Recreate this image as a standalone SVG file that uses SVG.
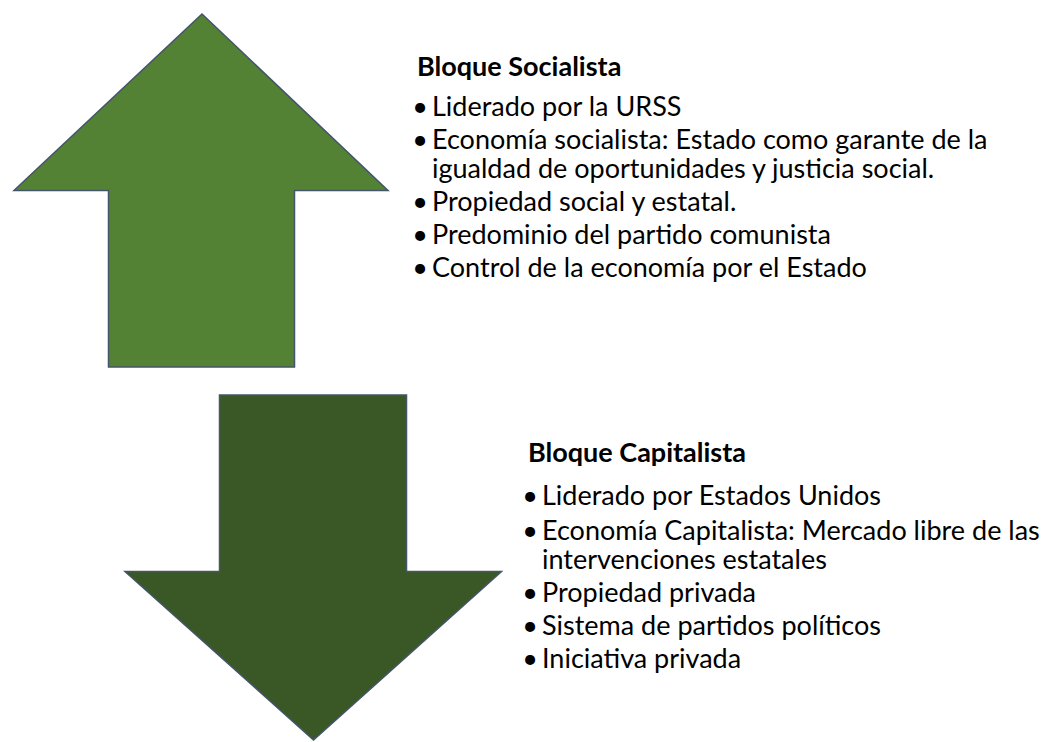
<svg xmlns="http://www.w3.org/2000/svg" width="1053" height="742" viewBox="0 0 1053 742">
<style>
.arrow{stroke:#44546A;stroke-width:1.5;stroke-linejoin:miter}
.up{fill:#548235}
.down{fill:#3A5825}
text{font-family:Lato,"Liberation Sans",sans-serif;font-size:27px;fill:#000}
.title{font-weight:bold}
.b{text-anchor:middle}
</style>
<rect width="1053" height="742" fill="#FFFFFF"/>
<g id="arrow-up">
<polygon class="arrow up" points="202,14 388,190.5 294.5,190.5 294.5,367 108.5,367 108.5,190.5 14,190.5"/>
</g>
<g id="arrow-down">
<polygon class="arrow down" points="219.5,395 406.5,395 406.5,571.5 501.5,571.5 313.5,740 125,571.5 219.5,571.5"/>
</g>
<g id="connectors"></g>
<g id="text-socialista">
<text class="title" x="417" y="76">Bloque Socialista</text>
<text class="b" x="420" y="116">•</text><text x="432" y="116">Liderado por la URSS</text>
<text class="b" x="420" y="149">•</text><text x="432" y="149">Economía socialista: Estado como garante de la</text>
<text x="432" y="178">igualdad de oportunidades y justicia social.</text>
<text class="b" x="420" y="211">•</text><text x="432" y="211">Propiedad social y estatal.</text>
<text class="b" x="420" y="244">•</text><text x="432" y="244">Predominio del partido comunista</text>
<text class="b" x="420" y="277">•</text><text x="432" y="277">Control de la economía por el Estado</text>
</g>
<g id="text-capitalista">
<text class="title" x="528" y="462">Bloque Capitalista</text>
<text class="b" x="530" y="505">•</text><text x="542" y="505">Liderado por Estados Unidos</text>
<text class="b" x="530" y="540">•</text><text x="542" y="540">Economía Capitalista: Mercado libre de las</text>
<text x="542" y="569">intervenciones estatales</text>
<text class="b" x="530" y="602">•</text><text x="542" y="602">Propiedad privada</text>
<text class="b" x="530" y="635">•</text><text x="542" y="635">Sistema de partidos políticos</text>
<text class="b" x="530" y="668">•</text><text x="542" y="668">Iniciativa privada</text>
</g>
</svg>
